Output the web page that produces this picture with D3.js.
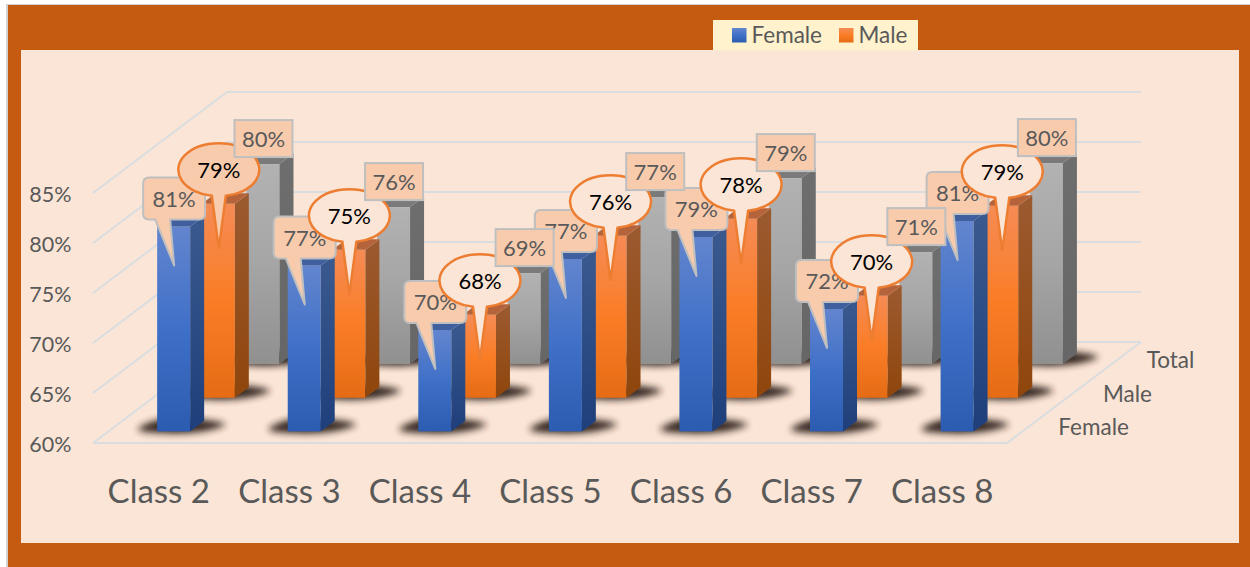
<!DOCTYPE html>
<html><head><meta charset="utf-8">
<script src="https://cdnjs.cloudflare.com/ajax/libs/d3/7.8.5/d3.min.js"></script>
<style>html,body{margin:0;padding:0;background:#fff;overflow:hidden}svg{display:block}text{font-family:Lato,"Open Sans",sans-serif}</style>
</head><body><div id="c"></div>
<script>
const categories = ["Class 2","Class 3","Class 4","Class 5","Class 6","Class 7","Class 8"];
const seriesNames = ["Female","Male","Total"];
const legendNames = ["Female","Male"];
const yTicks = [60,65,70,75,80,85];
const female = [80.5,76.6,70.15,77.25,79.45,72.25,81.05];
const male = [79.4,74.8,68.3,76.2,77.9,70.2,79.2];
const total = [80,75.7,69.1,76.7,78.6,71.2,80.1];

const W=1250,H=567;
const svg=d3.select("#c").append("svg").attr("width",W).attr("height",H);
const defs=svg.append("defs");
const palette={
 Female:{front:["#6385CE","#3F70C8","#2B5CB0"],side:["#3A5A8F","#1F3F7C"],top:"#3F5F9E"},
 Male:{front:["#F58B55","#FA7D26","#E56C14"],side:["#9C5A30","#8F460C"],top:"#B5633A"},
 Total:{front:["#B2B2B2","#A5A5A5","#909090"],side:["#6E6E6E","#666666"],top:"#7A7A7A"}
};
function grad(id,stops){
 const g=defs.append("linearGradient").attr("id",id).attr("x1",0).attr("y1",0).attr("x2",0).attr("y2",1);
 stops.forEach((c,i)=>g.append("stop").attr("offset",i/(stops.length-1)).attr("stop-color",c));
}
seriesNames.forEach(s=>{grad("f"+s,palette[s].front);grad("s"+s,palette[s].side);});
defs.append("filter").attr("id","blur").attr("x","-30%").attr("y","-100%").attr("width","160%").attr("height","300%")
 .append("feGaussianBlur").attr("stdDeviation",3.5);

// frame
svg.append("rect").attr("x",6).attr("y",4).attr("width",W-6).attr("height",H-4).attr("fill","#D2D2D2");
svg.append("rect").attr("x",8).attr("y",5).attr("width",W-8).attr("height",H-5).attr("fill","#C55A11");
svg.append("rect").attr("x",21).attr("y",50).attr("width",1218).attr("height",493).attr("fill","#FBE5D6");

// scales
const DX=134,DY=-101,BW=33,BD=0.052,SX=14,SY=-10.5;
const cat=d3.scaleBand().domain(categories).range([93,1007]);
const val=d3.scaleLinear().domain([60,85]).range([443,193]);
const depth=d3.scaleBand().domain(seriesNames).range([0,1]);
const frac=s=>depth(s)+depth.bandwidth()/2-BD;
const px=(c,s)=>cat(c)+(cat.bandwidth()-BW)/2+DX*frac(s);
const py=(v,s)=>val(v)+DY*frac(s);

// walls and grid
const grid=svg.append("g").attr("fill","none").attr("stroke","#D9DDE0").attr("stroke-width",2);
yTicks.forEach(t=>{
 grid.append("path").attr("d",d3.line()([[93,val(t)],[93+DX,val(t)+DY],[1007+DX,val(t)+DY]]));
});
grid.append("path").attr("d",d3.line()([[93,val(60)],[1007,val(60)],[1007+DX,val(60)+DY]]));

// axes
const axisStyle=(g,size)=>{g.select(".domain").remove();g.selectAll("text").attr("fill","#595959").style("font-size",size+"px").style("font-family","Lato");};
svg.append("g").attr("transform","translate(71.5,2)")
 .call(d3.axisLeft(val).tickValues(yTicks).tickSize(0).tickPadding(0).tickFormat(d=>d+"%")).call(axisStyle,21.5);
svg.append("g").attr("transform","translate(0.5,443)")
 .call(d3.axisBottom(cat).tickSize(0).tickPadding(37)).call(axisStyle,33);
const depthLabels=svg.append("g");
seriesNames.forEach(s=>{
 const f=depth(s)+depth.bandwidth()/2;
 depthLabels.append("text").text(s).attr("x",1007+DX*f+(s==="Total"?28:29)).attr("y",val(60)+DY*f+9)
  .attr("fill","#595959").style("font-size","22.5px");
});

// bars, back row first
const rows=[["Total",total],["Male",male],["Female",female]];
const barG=svg.append("g");
rows.forEach(([s,vals])=>{
 const g=barG.append("g");
 // shadows
 g.selectAll(".sh").data(categories).join("path").attr("class","sh").attr("fill","#2A1C14").attr("opacity",.95).attr("filter","url(#blur)")
  .attr("d",c=>{const x=px(c,s),y=py(60,s);return d3.line().curve(d3.curveCatmullRomClosed)([[x-19,y-2],[x+18,y+2],[x+50,y-1],[x+68,y-7],[x+44,y-12],[x+2,y-12]]);});
 const bars=g.selectAll(".b").data(vals).join("g").attr("class","b");
 bars.each(function(v,i){
  const c=categories[i],x=px(c,s),y0=py(60,s),y1=py(v,s),b=d3.select(this);
  b.append("rect").attr("x",x).attr("y",y1).attr("width",BW).attr("height",y0-y1).attr("fill",`url(#f${s})`);
  b.append("path").attr("fill",`url(#s${s})`).attr("d",d3.line()([[x+BW,y1],[x+BW+SX,y1+SY],[x+BW+SX,y0+SY],[x+BW,y0]])+"Z");
  b.append("path").attr("fill",palette[s].top).attr("d",d3.line()([[x,y1],[x+SX,y1+SY],[x+BW+SX,y1+SY],[x+BW,y1]])+"Z");
 });
});

// data labels
const fmt=v=>Math.round(v)+"%";
const labels=svg.append("g");
function labelText(x,y,t,col){
 labels.append("text").text(t).attr("x",x).attr("y",y).attr("text-anchor","middle").attr("dominant-baseline","central")
  .attr("fill",col).style("font-size","22px");
}
female.forEach((v,i)=>{
 const x=px(categories[i],"Female"),t=py(v,"Female");
 const l=x-14,r=x+48,a=t-49,b=t-7,k=6;
 labels.append("path").attr("fill","#F8CBAD").attr("stroke","#BFBFBF").attr("stroke-width",2).attr("stroke-linejoin","round")
  .attr("d",`M${l+k},${a}H${r-k}Q${r},${a} ${r},${a+k}V${b-k}Q${r},${b} ${r-k},${b}H${x+13}L${x+17},${t+39}L${x-2},${b}H${l+k}Q${l},${b} ${l},${b-k}V${a+k}Q${l},${a} ${l+k},${a}Z`);
 labelText((l+r)/2,(a+b)/2,fmt(v),"#595959");
});
male.forEach((v,i)=>{
 const x=px(categories[i],"Male"),t=py(v,"Male");
 const cx=x+17,cy=t-34,rx=40.5,ry=26.5,w=7,yb=cy+ry*Math.sqrt(1-(w/rx)*(w/rx));
 labels.append("path").attr("fill",i===0?"#F8CBAD":"#FBE5D6").attr("stroke","#ED7D31").attr("stroke-width",2.5)
  .attr("d",`M${cx-w},${yb}A${rx},${ry} 0 1 1 ${cx+w},${yb}L${cx},${t+45}Z`);
 labelText(cx,cy,fmt(v),"#000");
});
total.forEach((v,i)=>{
 const x=px(categories[i],"Total"),t=py(v,"Total");
 labels.append("rect").attr("x",x-12).attr("y",t-44).attr("width",58).attr("height",37)
  .attr("fill","#F8CBAD").attr("stroke","#BFBFBF").attr("stroke-width",2);
 labelText(x+17,t-25.5,fmt(v),"#595959");
});

// legend
const lg=svg.append("g");
lg.append("rect").attr("x",713).attr("y",20).attr("width",205).attr("height",30.5).attr("fill","#FFF2CC");
const lgX=d3.scaleOrdinal().domain(legendNames).range([732,839]);
legendNames.forEach(s=>{
 lg.append("rect").attr("x",lgX(s)).attr("y",28).attr("width",14.5).attr("height",14.5).attr("fill",`url(#f${s})`);
 lg.append("text").text(s).attr("x",lgX(s)+19.5).attr("y",34.5).attr("dominant-baseline","central")
  .attr("fill","#595959").style("font-size","22.5px");
});
</script></body></html>
